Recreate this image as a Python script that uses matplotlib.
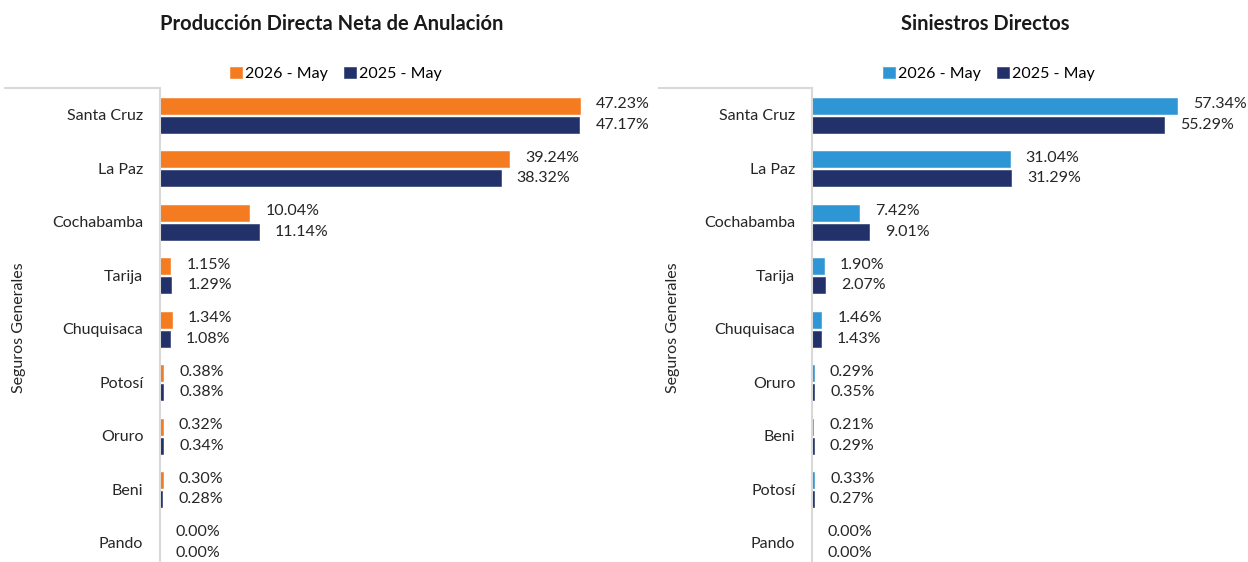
import matplotlib.pyplot as plt
from matplotlib.lines import Line2D

plt.rcParams['font.family'] = ['Lato', 'DejaVu Sans']

# left panel: produccion
prod_cats = ['Santa Cruz', 'La Paz', 'Cochabamba', 'Tarija', 'Chuquisaca',
             'Potosí', 'Oruro', 'Beni', 'Pando']
prod_2026 = [47.23, 39.24, 10.04, 1.15, 1.34, 0.38, 0.32, 0.30, 0.00]
prod_2025 = [47.17, 38.32, 11.14, 1.29, 1.08, 0.38, 0.34, 0.28, 0.00]

# right panel: siniestros
sin_cats = ['Santa Cruz', 'La Paz', 'Cochabamba', 'Tarija', 'Chuquisaca',
            'Oruro', 'Beni', 'Potosí', 'Pando']
sin_2026 = [57.34, 31.04, 7.42, 1.90, 1.46, 0.29, 0.21, 0.33, 0.00]
sin_2025 = [55.29, 31.29, 9.01, 2.07, 1.43, 0.35, 0.29, 0.27, 0.00]

series_names = ['2026 - May', '2025 - May']
NAVY = '#22316A'
GRID = '#D9D9D9'
TXT = '#262626'
FS = 11.5

W, H = 1248, 562
fig = plt.figure(figsize=(W / 100, H / 100), dpi=100)


def px_box(x0, x1, y0, y1):
    return [x0 / W, 1 - y1 / H, (x1 - x0) / W, (y1 - y0) / H]


def panel(x0, x1, xmax, cats, v26, v25, col26, title, tcx, lcx, lab_x):
    ax = fig.add_axes(px_box(x0, x1, 88, 88 + 9 * 53.5))
    ys = range(len(cats))
    ax.barh([y - 0.17 for y in ys], v26, height=0.3, color=col26, edgecolor=col26, lw=0.4,
            label=series_names[0])
    ax.barh([y + 0.19 for y in ys], v25, height=0.3, color=NAVY, edgecolor=NAVY, lw=0.4,
            label=series_names[1])
    ax.set_xlim(0, xmax)
    ax.set_ylim(8.5, -0.5)
    ax.set_yticks(list(ys))
    ax.set_yticklabels(cats, fontsize=FS, color=TXT)
    ax.tick_params(axis='y', length=0, pad=12)
    ax.set_xticks([])
    for s in ['top', 'right', 'bottom']:
        ax.spines[s].set_visible(False)
    ax.spines['left'].set_color(GRID)
    ax.spines['left'].set_linewidth(1.5)
    off = xmax * 16 / (x1 - x0)
    for y, a, b in zip(ys, v26, v25):
        ax.text(a + off, y - 0.2, f'{a:.2f}%', va='center', ha='left', fontsize=FS, color=TXT)
        ax.text(b + off, y + 0.19, f'{b:.2f}%', va='center', ha='left', fontsize=FS, color=TXT)
    # top bracket line of category area
    fig.add_artist(Line2D([lab_x / W, x0 / W], [1 - 88 / H, 1 - 88 / H], color=GRID, lw=1.5))
    fig.text(tcx / W, 1 - 24 / H, title, ha='center', va='center', fontsize=14.5,
             fontweight='bold', color='#1a1a1a')
    fig.text((lab_x + 14) / W, 1 - 328 / H, 'Seguros Generales', rotation=90, ha='center',
             va='center', fontsize=FS, color=TXT)
    fig.legend(*ax.get_legend_handles_labels(), loc='center', bbox_to_anchor=(lcx / W, 1 - 74 / H),
               ncol=2, frameon=False, fontsize=FS, handlelength=0.75, handleheight=0.75,
               handletextpad=0.2, columnspacing=1.0)
    return ax


panel(160, 620, 460 / 8.89, prod_cats, prod_2026, prod_2025, '#F47B20',
      'Producción Directa Neta de Anulación', 332, 336, 5)
panel(812, 1230, 418 / 6.37, sin_cats, sin_2026, sin_2025, '#2E96D4',
      'Siniestros Directos', 985, 989, 659)

fig.savefig('out.png', dpi=100)
